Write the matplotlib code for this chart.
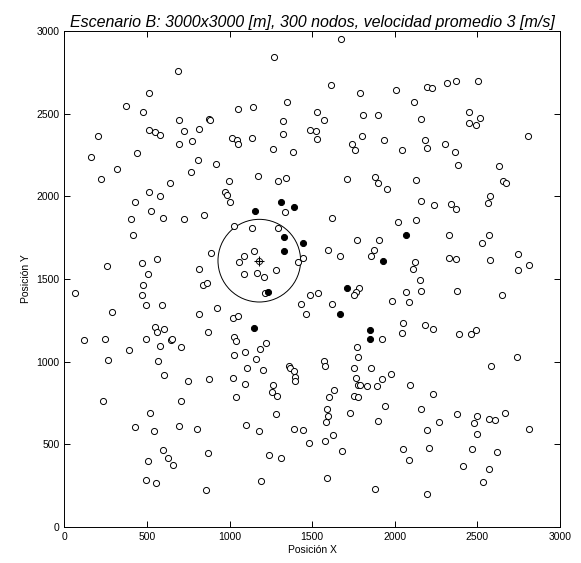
"""Scenario B node layout: 300 nodes on a 3000x3000 m field."""

import matplotlib
matplotlib.use("Agg")
import matplotlib.pyplot as plt
from matplotlib.patches import Circle

# open circles: nodes outside the reference node's range
node_x = [
    685, 512, 371, 476, 697, 206, 512, 546, 581, 697, 162, 442, 321, 222, 641, 512, 579,
    1269, 1346, 1054, 1142, 874, 882, 723, 816, 1323, 774, 1013, 1043, 1050, 1136, 1323,
    1263, 1384, 810, 917, 766, 997, 1174, 1291, 1340, 971, 983,
    1672, 1611, 1788, 2006, 2195, 2223, 2119, 1528, 1573, 1808, 1897, 2157, 1484, 1526,
    1528, 1800, 1744, 1758, 1937, 2042, 2185, 2197, 1710, 1879, 1897, 1951, 2131,
    2317, 2373, 2506, 2449, 2518, 2449, 2494, 2804, 2302, 2367, 2383, 2633, 2657, 2671, 2574,
    426, 524, 403, 597, 413, 260, 470, 563, 506, 65, 476, 470, 492, 593, 287, 546, 558,
    603, 121, 248, 492, 647, 653, 581, 391, 266, 567,
    1005, 725, 844, 1336, 1027, 1138, 1291, 888, 1150, 1086, 1060, 1412, 1446, 814,
    1088, 1164, 1209, 1281, 838, 866, 1215, 1430, 1464, 923, 816, 1019, 1054, 872,
    1029, 1041, 1221, 1186, 709, 1029, 1094, 1158,
    2157, 2235, 1621, 2020, 2129, 1770, 1903, 1595, 1671, 1875, 1855, 2125, 2109, 2153,
    2157, 2068, 1486, 1535, 1782, 1766, 1754, 1621, 1982, 2086, 2048, 2185, 2046, 1925,
    1770, 1776, 1569,
    2341, 2373, 2562, 2329, 2568, 2528, 2329, 2369, 2578, 2744, 2814, 2744, 2377, 2649,
    2389, 2462, 2490, 2740, 2234,
    601, 236, 518, 426, 542, 597, 506, 625, 657, 492, 552,
    1104, 1203, 1360, 1367, 1392, 1394, 1398, 747, 878, 1021, 1092, 1263, 1257, 1287,
    1041, 709, 1279, 697, 802, 1098, 1180, 1390, 1444, 872, 1241, 1309, 1193, 856,
    1579, 1754, 1859, 1764, 1776, 1788, 1831, 1921, 1976, 1891, 2092, 2233, 1599, 1635,
    1752, 1778, 1941, 1589, 1597, 1585, 1730, 1897, 2157, 1478, 1577, 1629, 1678, 2048,
    2086, 2195, 2207, 1589, 1881, 2195,
    2582, 2377, 2270, 2500, 2482, 2572, 2605, 2665, 2814, 2500, 2466, 2621, 2411, 2572, 2536,
]
node_y = [
    2759, 2628, 2544, 2508, 2463, 2363, 2403, 2387, 2373, 2314, 2236, 2264, 2165, 2105, 2083, 2026, 2000,
    2844, 2568, 2528, 2540, 2469, 2461, 2397, 2409, 2457, 2336, 2352, 2340, 2318, 2352, 2379,
    2286, 2270, 2220, 2197, 2147, 2093, 2121, 2093, 2109, 2026, 2008,
    2953, 2673, 2628, 2644, 2661, 2657, 2568, 2512, 2463, 2495, 2495, 2469, 2403, 2393,
    2346, 2363, 2314, 2282, 2338, 2282, 2342, 2292, 2105, 2117, 2081, 2042, 2097,
    2683, 2695, 2695, 2508, 2473, 2445, 2433, 2367, 2318, 2270, 2191, 2185, 2093, 2081, 2000,
    1964, 1913, 1865, 1871, 1766, 1579, 1595, 1619, 1529, 1418, 1462, 1402, 1345, 1345, 1301, 1208, 1182,
    1196, 1130, 1140, 1136, 1134, 1138, 1092, 1069, 1009, 1005,
    1966, 1865, 1887, 1905, 1823, 1811, 1809, 1656, 1668, 1637, 1605, 1605, 1625, 1559,
    1529, 1535, 1513, 1553, 1466, 1478, 1418, 1351, 1287, 1325, 1291, 1263, 1275, 1182,
    1150, 1128, 1112, 1076, 1088, 1039, 1061, 1017,
    1972, 1946, 1871, 1843, 1855, 1738, 1738, 1674, 1637, 1674, 1637, 1601, 1559, 1496,
    1428, 1422, 1402, 1416, 1448, 1422, 1404, 1351, 1368, 1362, 1237, 1221, 1172, 1140,
    1086, 1027, 1003,
    1956, 1921, 1962, 1766, 1766, 1716, 1627, 1619, 1613, 1650, 1585, 1553, 1430, 1402,
    1166, 1166, 1192, 1029, 1200,
    920, 765, 689, 608, 578, 467, 397, 417, 373, 282, 264,
    961, 949, 973, 963, 943, 908, 886, 882, 894, 904, 866, 860, 816, 794,
    784, 761, 683, 614, 594, 618, 578, 590, 584, 449, 435, 419, 276, 226,
    973, 961, 961, 900, 860, 860, 854, 894, 927, 854, 860, 804, 784, 826,
    794, 788, 733, 713, 669, 638, 689, 644, 711, 508, 518, 558, 457, 473,
    407, 584, 479, 296, 232, 197,
    971, 683, 638, 673, 632, 655, 645, 689, 594, 562, 473, 453, 369, 353, 270,
]

# filled circles: neighbouring nodes
neigh_x = [1154, 1313, 1390, 1331, 1444, 1329, 1235, 1150, 2068, 1931, 1710, 1667, 1851, 1851]
neigh_y = [1911, 1966, 1936, 1754, 1716, 1668, 1424, 1202, 1764, 1611, 1446, 1287, 1190, 1140]

# reference node and its coverage radius [m]
center = (1180, 1611)
radius = 250

plt.rcParams["font.family"] = ["Liberation Sans", "DejaVu Sans"]

fig = plt.figure(figsize=(5.81, 5.63), dpi=100)
ax = fig.add_axes([0.1107, 0.0639, 0.8532, 0.881])

ax.plot(node_x, node_y, "o", markersize=4.4, markerfacecolor="white",
        markeredgecolor="black", markeredgewidth=0.7, linestyle="none")
ax.plot(neigh_x, neigh_y, "o", markersize=4.4, markerfacecolor="black",
        markeredgecolor="black", markeredgewidth=0.7, linestyle="none")
ax.plot(*center, "o", markersize=4.4, markerfacecolor="none",
        markeredgecolor="black", markeredgewidth=0.6)
ax.plot(*center, "+", markersize=7, markeredgecolor="black", markeredgewidth=0.8)
ax.add_patch(Circle(center, radius, fill=False, edgecolor="black", linewidth=0.7))

ax.set_xlim(0, 3000)
ax.set_ylim(0, 3000)
ax.set_xticks(range(0, 3001, 500))
ax.set_yticks(range(0, 3001, 500))
ax.tick_params(direction="in", length=4, width=0.7, labelsize=7.5,
               top=True, right=True)
for s in ax.spines.values():
    s.set_linewidth(0.7)

ax.set_xlabel("Posición X", fontsize=7.5, labelpad=2)
ax.set_ylabel("Posición Y", fontsize=7.5, labelpad=4)
ax.set_title("Escenario B: 3000x3000 [m], 300 nodos, velocidad promedio 3 [m/s]",
             fontsize=11.5, style="italic", pad=3)

fig.savefig("out.png", dpi=100)
